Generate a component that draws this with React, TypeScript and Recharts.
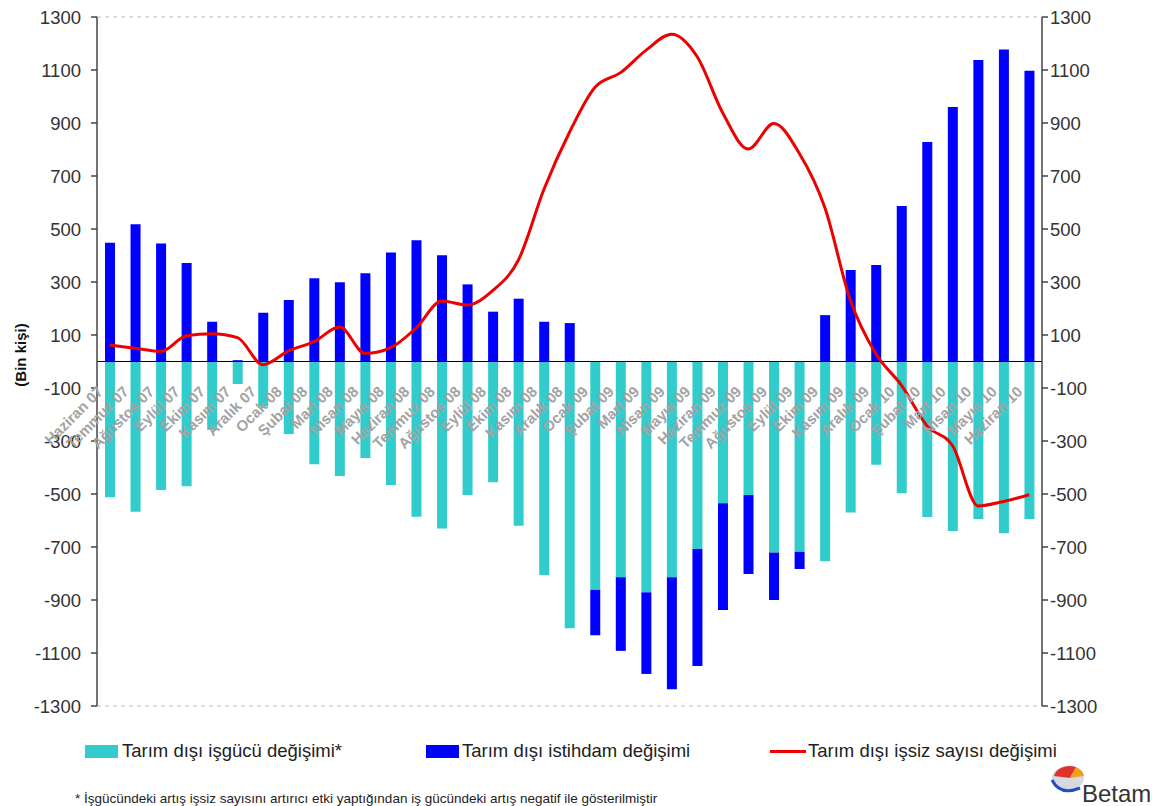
import {
  ComposedChart,
  Bar,
  Line,
  XAxis,
  YAxis,
  CartesianGrid,
  ReferenceLine,
  LabelList,
} from "recharts";

const months = [
  "Haziran 07", "Temmuz 07", "Ağustos 07", "Eylül 07", "Ekim 07", "Kasım 07", "Aralık 07",
  "Ocak 08", "Şubat 08", "Mart 08", "Nisan 08", "Mayıs 08", "Haziran 08", "Temmuz 08",
  "Ağustos 08", "Eylül 08", "Ekim 08", "Kasım 08", "Aralık 08",
  "Ocak 09", "Şubat 09", "Mart 09", "Nisan 09", "Mayıs 09", "Haziran 09", "Temmuz 09",
  "Ağustos 09", "Eylül 09", "Ekim 09", "Kasım 09", "Aralık 09",
  "Ocak 10", "Şubat 10", "Mart 10", "Nisan 10", "Mayıs 10", "Haziran 10",
];

// işgücü değişimi (shown negative)
const isgucu = [
  -512, -567, -485, -471, -258, -85, -170,
  -274, -388, -432, -364, -466, -586, -630,
  -504, -456, -620, -806, -1007,
  -862, -814, -871, -814, -708, -535, -504,
  -721, -718, -754, -570, -390,
  -497, -587, -640, -594, -648, -594,
];

const istihdam = [
  448, 518, 445, 372, 150, 5, 184,
  232, 314, 299, 333, 411, 458, 401,
  291, 188, 237, 150, 145,
  -171, -278, -308, -423, -441, -403, -298,
  -179, -65, 175, 345, 364,
  587, 828, 960, 1138, 1177, 1097,
];

const issiz = [
  62, 50, 38, 97, 105, 90, -12,
  40, 75, 130, 30, 52, 127, 228,
  213, 268, 383, 650, 865,
  1035, 1090, 1175, 1235, 1150, 938, 802,
  898, 785, 580, 230, 28,
  -90, -243, -318, -545, -528, -503,
];

const yTicks = [1300, 1100, 900, 700, 500, 300, 100, -100, -300, -500, -700, -900, -1100, -1300];

const data = months.map((m, i) => ({
  month: m,
  isgucu: isgucu[i],
  istihdam: istihdam[i],
  issiz: issiz[i],
}));

const FONT = "'Liberation Sans', Arial, sans-serif";

// month labels sit just under the zero line (top edge of the negative cyan bars)
const MonthLabel = (props: any) => {
  const { x, y, width, height, value } = props;
  const zero = Math.min(y, y + height);
  const lx = x + width / 2 - 6;
  const ly = zero + 31;
  return (
    <text
      x={lx}
      y={ly}
      transform={`rotate(-45 ${lx} ${ly})`}
      textAnchor="end"
      fontSize={15}
      fontWeight="bold"
      fill="#a3a3a3"
      fontFamily={FONT}
    >
      {value}
    </text>
  );
};

export default function App() {
  return (
    <div style={{ position: "absolute", left: 0, top: 0, width: 1152, height: 806, background: "#fff", fontFamily: FONT }}>
      <ComposedChart
        width={1152}
        height={806}
        data={data}
        stackOffset="sign"
        barSize={10}
        margin={{ top: 17, right: 0, bottom: 0, left: 0 }}
      >
        <CartesianGrid vertical={false} stroke="#bdbdbd" strokeDasharray="4 4" />
        <XAxis dataKey="month" height={100} axisLine={false} tickLine={false} tick={false} />
        <YAxis
          yAxisId="left"
          width={97}
          domain={[-1300, 1300]}
          ticks={yTicks}
          interval={0}
          stroke="#444"
          strokeWidth={1.5}
          tickSize={6}
          tickMargin={10}
          tick={{ fontSize: 18.5, fill: "#333", fontFamily: FONT }}
        />
        <YAxis
          yAxisId="right"
          orientation="right"
          width={110}
          domain={[-1300, 1300]}
          ticks={yTicks}
          interval={0}
          stroke="#444"
          strokeWidth={1.5}
          tickSize={6}
          tickMargin={2}
          tick={{ fontSize: 18.5, fill: "#333", fontFamily: FONT, textAnchor: "start" }}
        />
        <Bar yAxisId="left" dataKey="isgucu" stackId="a" fill="#33CCCC" isAnimationActive={false}>
          <LabelList dataKey="month" content={<MonthLabel />} />
        </Bar>
        <Bar yAxisId="left" dataKey="istihdam" stackId="a" fill="#0000FF" isAnimationActive={false} />
        <ReferenceLine yAxisId="left" y={0} stroke="#000" strokeWidth={1.2} />
        <Line
          yAxisId="right"
          type="monotone"
          dataKey="issiz"
          stroke="#EE0000"
          strokeWidth={3}
          dot={false}
          isAnimationActive={false}
        />
      </ComposedChart>

      <div
        style={{
          position: "absolute",
          left: 20,
          top: 355,
          transform: "translate(-50%, -50%) rotate(-90deg)",
          fontSize: 15,
          fontWeight: "bold",
          color: "#111",
          whiteSpace: "nowrap",
        }}
      >
        (Bin kişi)
      </div>

      <div style={{ position: "absolute", left: 85, top: 745, width: 33, height: 13, background: "#33CCCC" }} />
      <div style={{ position: "absolute", left: 122, top: 740, fontSize: 18.5, color: "#222", whiteSpace: "nowrap" }}>
        Tarım dışı işgücü değişimi*
      </div>
      <div style={{ position: "absolute", left: 426, top: 745, width: 33, height: 13, background: "#0000FF" }} />
      <div style={{ position: "absolute", left: 462, top: 740, fontSize: 18.5, color: "#222", whiteSpace: "nowrap" }}>
        Tarım dışı istihdam değişimi
      </div>
      <div style={{ position: "absolute", left: 770, top: 750, width: 36, height: 3, background: "#EE0000" }} />
      <div style={{ position: "absolute", left: 808, top: 740, fontSize: 18.5, color: "#222", whiteSpace: "nowrap" }}>
        Tarım dışı işsiz sayısı değişimi
      </div>

      <div style={{ position: "absolute", left: 75, top: 791, fontSize: 13.5, color: "#222", whiteSpace: "nowrap" }}>
        * İşgücündeki artış işsiz sayısını artırıcı etki yaptığından iş gücündeki artış negatif ile gösterilmiştir
      </div>

      <svg style={{ position: "absolute", left: 1046, top: 762 }} width={106} height={44}>
        <ellipse cx={22} cy={16} rx={16} ry={12} fill="#d8d8e0" />
        <path d="M8 14 A16 12 0 0 1 30 5 L24 16 Z" fill="#e03030" />
        <path d="M24 16 L30 5 A16 12 0 0 1 38 14 Z" fill="#f0a020" />
        <path d="M6 18 Q14 34 34 26" stroke="#2050c0" strokeWidth={3} fill="none" />
        <text x={36} y={40} fontSize={24} fill="#333" fontFamily={FONT}>
          Betam
        </text>
      </svg>
    </div>
  );
}
